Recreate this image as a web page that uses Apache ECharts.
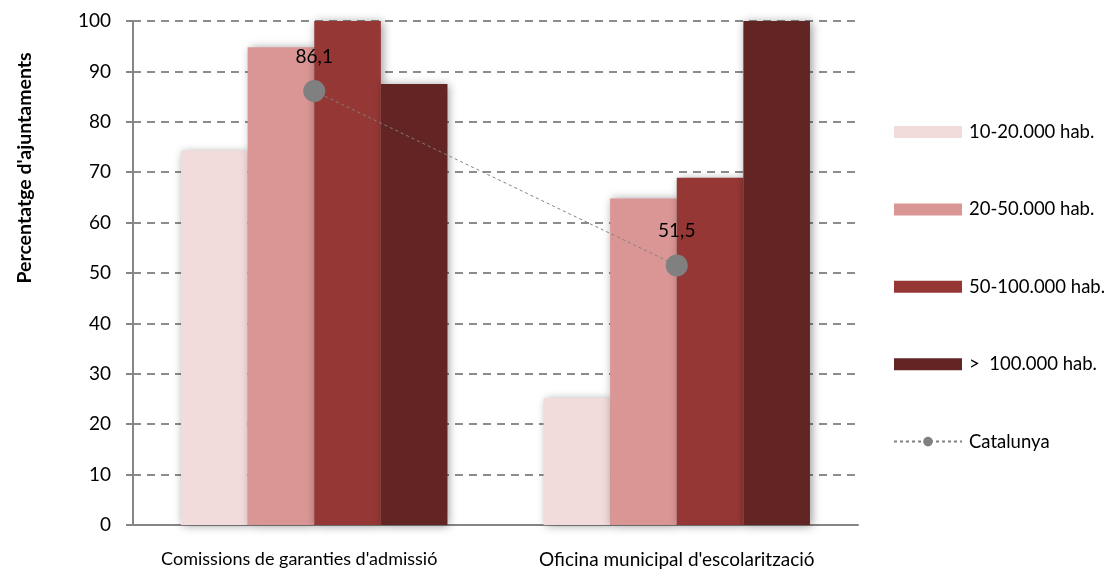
<!DOCTYPE html>
<html><head><meta charset="utf-8">
<script src="https://cdn.jsdelivr.net/npm/echarts@6/dist/echarts.min.js"></script>
<style>html,body{margin:0;padding:0;background:#fff}#c{width:1108px;height:572px}</style>
</head><body><div id="c"></div>
<script>
const categories = ["Comissions de garanties d'admissió", "Oficina municipal d'escolarització"];
const seriesNames = ["10-20.000 hab.", "20-50.000 hab.", "50-100.000 hab.", ">  100.000 hab."];
const s10_20 = [74.3, 25.2];
const s20_50 = [94.8, 64.8];
const s50_100 = [100, 68.9];
const s100 = [87.5, 100];
const catalunya = [86.1, 51.5];
const yTicks = [0, 10, 20, 30, 40, 50, 60, 70, 80, 90, 100];

const colors = ['#F2DCDB', '#D99694', '#953735', '#632523'];
const font = 'Lato, "Open Sans", sans-serif';
const chart = echarts.init(document.getElementById('c'));
const barData = [s10_20, s20_50, s50_100, s100];
const bars = barData.map((d, i) => ({
  name: seriesNames[i], type: 'bar', data: d, barGap: '0%', barCategoryGap: '26.5%',
  itemStyle: { color: colors[i], shadowBlur: 9, shadowColor: 'rgba(0,0,0,0.4)', shadowOffsetX: 2, shadowOffsetY: 1 },
  emphasis: { disabled: true }, z: 2
}));
chart.setOption({
  animation: false,
  grid: { left: 133, right: 250, top: 21, bottom: 47 },
  legend: {
    orient: 'vertical', left: 893, top: 122, padding: 0, itemGap: 57.4, itemWidth: 68, itemHeight: 12,
    textStyle: { fontFamily: font, fontSize: 18.5, lineHeight: 20, color: '#000', padding: [0, 0, 0, 2] },
    data: seriesNames.map(n => ({ name: n, icon: 'rect' })).concat([{ name: 'Catalunya' }])
  },
  xAxis: {
    type: 'category',
    data: categories.map((c, i) => i === 0
      ? { value: c, textStyle: { padding: [0, 30, 0, 0] } }
      : { value: c, textStyle: { fontSize: 19 } }),
    axisLine: { lineStyle: { color: '#868686', width: 2 } },
    axisTick: { show: false },
    axisLabel: { fontFamily: font, fontSize: 18, color: '#000', margin: 25 }
  },
  yAxis: {
    type: 'value', min: 0, max: 100, interval: 10,
    axisLine: { show: true, lineStyle: { color: '#868686', width: 2 } },
    axisTick: { show: true, length: 7, lineStyle: { color: '#868686', width: 2 } },
    splitLine: { lineStyle: { color: '#8c8c8c', type: [8, 6], width: 2 } },
    axisLabel: { fontFamily: font, fontSize: 19, color: '#000', margin: 22,
      formatter: v => yTicks.includes(v) ? String(v) : '' }
  },
  graphic: [{
    type: 'text', rotation: Math.PI / 2, x: 25, y: 168,
    style: { text: "Percentatge d'ajuntaments", fontFamily: font, fontSize: 19.5, fontWeight: 'bold', fill: '#000',
      align: 'center', verticalAlign: 'middle' }
  }],
  series: bars.concat([{
    name: 'Catalunya', type: 'line', data: catalunya, symbol: 'circle', symbolSize: 22,
    itemStyle: { color: '#808080' },
    lineStyle: { color: '#808080', width: 1, type: [3, 3] },
    label: { show: true, position: 'top', distance: 14, fontFamily: font, fontSize: 19, color: '#000',
      formatter: p => String(p.value).replace('.', ',') },
    emphasis: { disabled: true }, z: 5
  }])
});
</script></body></html>
